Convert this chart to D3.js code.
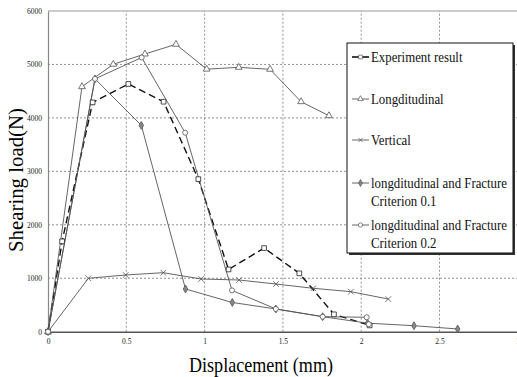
<!DOCTYPE html>
<html>
<head>
<meta charset="utf-8">
<script src="https://cdn.jsdelivr.net/npm/d3@7"></script>
<style>
  body { margin: 0; background: #fff; }
  svg { display: block; }
  svg text { font-family: "Liberation Serif", "Times New Roman", "DejaVu Serif", serif; }
</style>
</head>
<body>
<svg id="chart"></svg>
<script>
// values: [displacement mm, load N]
const experiment = [[0, 0], [0.09, 1690], [0.285, 4290], [0.513, 4635], [0.738, 4303], [0.96, 2855],
  [1.153, 1165], [1.38, 1565], [1.605, 1092], [1.826, 325], [2.054, 118]];
const longditudinal = [[0, 0], [0.217, 4584], [0.417, 5003], [0.619, 5195], [0.817, 5377], [1.013, 4912],
  [1.218, 4946], [1.418, 4909], [1.616, 4303], [1.794, 4041]];
const vertical = [[0, 0], [0.258, 999], [0.496, 1061], [0.736, 1104], [0.978, 986], [1.22, 967],
  [1.456, 892], [1.694, 812], [1.934, 749], [2.173, 611]];
const fracture01 = [[0, 0], [0.3, 4730], [0.596, 3860], [0.878, 799], [1.177, 547], [1.455, 425],
  [1.754, 281], [2.04, 160], [2.337, 112], [2.616, 51]];
const fracture02 = [[0, 0], [0.3, 4730], [0.598, 5130], [0.876, 3723], [1.175, 773], [1.455, 425],
  [1.754, 281], [2.035, 270], [2.048, 140]];

const xTicks = [0, 0.5, 1, 1.5, 2, 2.5, 3];
const yTicks = [0, 1000, 2000, 3000, 4000, 5000, 6000];
const legendLabels = [["Experiment result"], ["Longditudinal"], ["Vertical"],
  ["longditudinal and Fracture", "Criterion 0.1"], ["longditudinal and Fracture", "Criterion 0.2"]];

const serif = "'Liberation Serif', 'Times New Roman', 'DejaVu Serif', serif";
const width = 517, height = 377;
const svg = d3.select("#chart").attr("width", width).attr("height", height);

const x = d3.scaleLinear().domain([0, 3]).range([48, 517.8]);
const y = d3.scaleLinear().domain([0, 6000]).range([331.7, 11]);

// grid
const grid = svg.append("g");
grid.selectAll("line.gx")
  .data(xTicks.slice(1, -1))
  .join("line")
    .attr("x1", d => x(d)).attr("x2", d => x(d))
    .attr("y1", y(0)).attr("y2", y(6000))
    .attr("stroke", "#777").attr("stroke-width", 0.8).attr("stroke-dasharray", "2,2");
grid.selectAll("line.gy")
  .data(yTicks.slice(1, -1))
  .join("line")
    .attr("x1", x(0)).attr("x2", width)
    .attr("y1", d => y(d)).attr("y2", d => y(d))
    .attr("stroke", "#777").attr("stroke-width", 0.8).attr("stroke-dasharray", "2,2");
// top frame line
svg.append("line")
  .attr("x1", x(0)).attr("x2", width).attr("y1", y(6000)).attr("y2", y(6000))
  .attr("stroke", "#999").attr("stroke-width", 1);

// axes
const yAxis = svg.append("g")
  .attr("transform", `translate(${x(0)},0)`)
  .call(d3.axisLeft(y).tickValues(yTicks).tickSize(0).tickPadding(6).tickFormat(d3.format("d")));
const xAxis = svg.append("g")
  .attr("transform", `translate(0,${y(0)})`)
  .call(d3.axisBottom(x).tickValues(xTicks).tickSize(0).tickPadding(7).tickFormat(d => d));
[yAxis, xAxis].forEach(a => {
  a.attr("font-family", serif);
  a.selectAll("text").attr("font-family", serif).attr("font-size", 7.5).attr("fill", "#222");
});
yAxis.select(".domain").attr("stroke", "#888").attr("stroke-width", 1.2);
xAxis.select(".domain").attr("stroke", "#555").attr("stroke-width", 1.6);

// axis titles
svg.append("text")
  .attr("x", 261).attr("y", 372)
  .attr("text-anchor", "middle")
  .attr("font-family", serif)
  .attr("font-size", 21)
  .attr("textLength", 144).attr("lengthAdjust", "spacingAndGlyphs")
  .text("Displacement (mm)");
svg.append("text")
  .attr("transform", "translate(23,180) rotate(-90)")
  .attr("text-anchor", "middle")
  .attr("font-family", serif)
  .attr("font-size", 21)
  .attr("textLength", 144).attr("lengthAdjust", "spacingAndGlyphs")
  .text("Shearing load(N)");

// series
const line = d3.line().x(d => x(d[0])).y(d => y(d[1]));
const series = [
  { data: experiment, stroke: "#111", width: 1.4, dash: "7,4", symbol: d3.symbolSquare, size: 22, fill: "#fff" },
  { data: longditudinal, stroke: "#555", width: 0.9, dash: null, symbol: d3.symbolTriangle, size: 20, fill: "#fff" },
  { data: vertical, stroke: "#555", width: 0.9, dash: null, symbol: d3.symbolX, size: 22, fill: "none" },
  { data: fracture01, stroke: "#555", width: 0.9, dash: null, symbol: d3.symbolDiamond, size: 18, fill: "#888" },
  { data: fracture02, stroke: "#555", width: 0.9, dash: null, symbol: d3.symbolCircle, size: 20, fill: "#fff" }
];

const plot = svg.append("g");
series.forEach(s => {
  plot.append("path")
    .datum(s.data)
    .attr("d", line)
    .attr("fill", "none")
    .attr("stroke", s.stroke)
    .attr("stroke-width", s.width)
    .attr("stroke-dasharray", s.dash);
});
series.forEach(s => {
  plot.append("g").selectAll("path")
    .data(s.data)
    .join("path")
      .attr("transform", d => `translate(${x(d[0])},${y(d[1])})`)
      .attr("d", d3.symbol(s.symbol, s.size))
      .attr("fill", s.fill)
      .attr("stroke", s.symbol === d3.symbolSquare ? "#222" : "#555")
      .attr("stroke-width", 0.8);
});

// legend
const lg = svg.append("g").attr("transform", "translate(347,43)");
lg.append("rect").attr("x", 2).attr("y", 2).attr("width", 166).attr("height", 210).attr("fill", "#333");
lg.append("rect").attr("width", 166).attr("height", 210).attr("fill", "#fff").attr("stroke", "#111").attr("stroke-width", 1);
const rowY = [14, 56, 97, 140, 182];
const legendTexts = [];
legendLabels.forEach((lines, i) => {
  const s = series[i];
  const row = lg.append("g").attr("transform", `translate(0,${rowY[i]})`);
  row.append("line")
    .attr("x1", 5).attr("x2", 22).attr("y1", 0).attr("y2", 0)
    .attr("stroke", s.stroke).attr("stroke-width", i === 0 ? 1.6 : 0.9);
  row.append("path")
    .attr("transform", "translate(13.5,0)")
    .attr("d", d3.symbol(s.symbol, 14))
    .attr("fill", s.fill).attr("stroke", "#555").attr("stroke-width", 0.7);
  lines.forEach((t, j) => {
    const txt = row.append("text")
      .attr("x", 24).attr("y", 5 + j * 18)
      .attr("font-family", serif)
      .attr("font-size", 15)
      .attr("fill", "#111")
      .text(t);
    legendTexts.push(txt);
  });
});
// the legend text in the picture is narrow: squeeze so the longest line is 136px wide
const longest = d3.max(legendTexts, t => t.node().getComputedTextLength());
const k = Math.min(1, 136 / longest);
legendTexts.forEach(t => {
  const w = t.node().getComputedTextLength();
  t.attr("textLength", w * k).attr("lengthAdjust", "spacingAndGlyphs");
});
</script>
</body>
</html>
